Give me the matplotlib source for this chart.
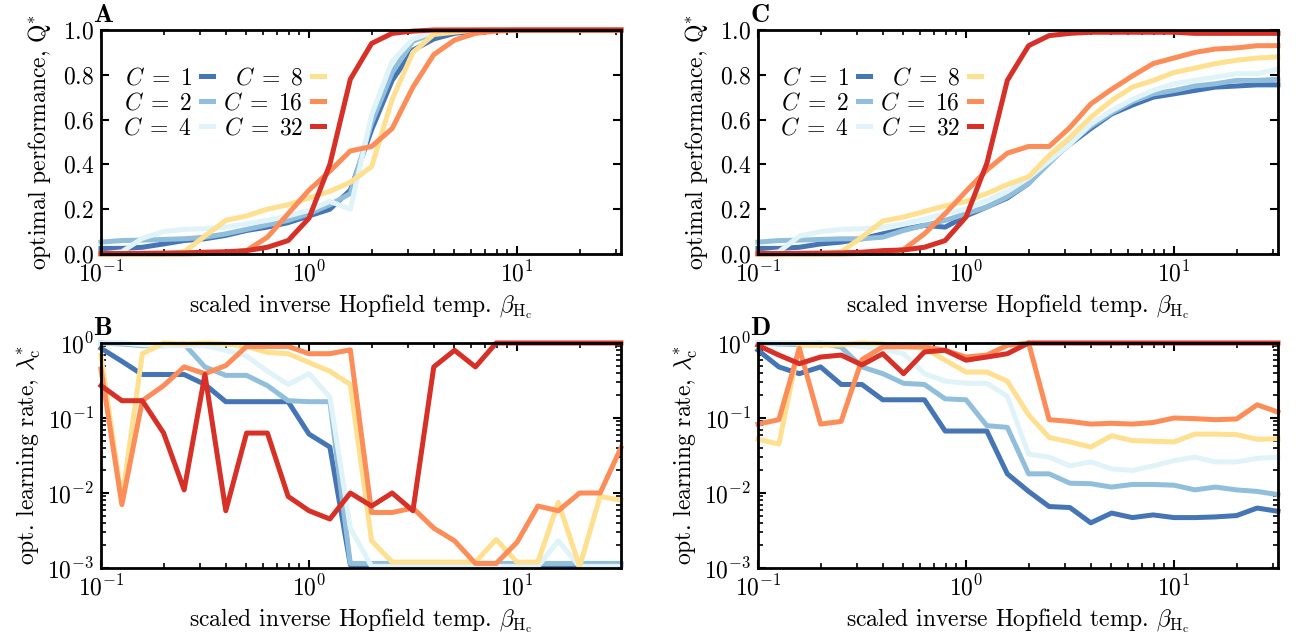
import matplotlib
matplotlib.use("Agg")
import matplotlib.pyplot as plt
import numpy as np

plt.rcParams.update({
    "font.family": "serif",
    "font.serif": ["cmr10"],
    "mathtext.fontset": "cm",
    "axes.formatter.use_mathtext": True,
    "font.size": 17,
    "axes.unicode_minus": False,
})

# scaled inverse Hopfield temperature grid
beta = [0.1, 0.126, 0.158, 0.2, 0.251, 0.316, 0.398, 0.501, 0.631, 0.794,
        1.0, 1.26, 1.58, 2.0, 2.51, 3.16, 3.98, 5.01, 6.31, 7.94,
        10.0, 12.6, 15.8, 20.0, 25.1, 31.6]

n_classes = [1, 2, 4, 8, 16, 32]
colors = ["#4575b4", "#91bfdb", "#e0f3f8", "#fee090", "#fc8d59", "#d73027"]

# panel A: optimal performance
perf_a_c1 = [0.025, 0.025, 0.03, 0.045, 0.06, 0.068, 0.083, 0.105, 0.12, 0.14, 0.17, 0.2, 0.285,
             0.555, 0.775, 0.91, 0.96, 0.985, 0.995, 1.0, 1.0, 1.0, 1.0, 1.0, 1.0, 1.0]
perf_a_c2 = [0.053, 0.06, 0.062, 0.065, 0.068, 0.075, 0.09, 0.11, 0.13, 0.15, 0.18, 0.22, 0.27,
             0.585, 0.81, 0.95, 0.985, 0.995, 1.0, 1.0, 1.0, 1.0, 1.0, 1.0, 1.0, 1.0]
perf_a_c4 = [0.0, 0.01, 0.07, 0.1, 0.11, 0.113, 0.12, 0.135, 0.15, 0.17, 0.195, 0.235, 0.2,
             0.62, 0.86, 0.96, 0.99, 1.0, 1.0, 1.0, 1.0, 1.0, 1.0, 1.0, 1.0, 1.0]
perf_a_c8 = [0.0, 0.0, 0.0, 0.0, 0.01, 0.08, 0.15, 0.17, 0.2, 0.22, 0.25, 0.28, 0.32,
             0.39, 0.69, 0.9, 0.98, 0.99, 1.0, 1.0, 1.0, 1.0, 1.0, 1.0, 1.0, 1.0]
perf_a_c16 = [0.0, 0.0, 0.0, 0.0, 0.0, 0.002, 0.005, 0.015, 0.075, 0.18, 0.285, 0.37, 0.46,
              0.48, 0.56, 0.745, 0.89, 0.955, 0.985, 0.995, 1.0, 1.0, 1.0, 1.0, 1.0, 1.0]
perf_a_c32 = [0.002, 0.002, 0.003, 0.004, 0.005, 0.008, 0.01, 0.015, 0.03, 0.06, 0.16, 0.4, 0.78,
              0.94, 0.985, 0.995, 1.0, 1.0, 1.0, 1.0, 1.0, 1.0, 1.0, 1.0, 1.0, 1.0]

# panel B: optimal learning rate
lr_b_c1 = [0.85, 0.57, 0.38, 0.38, 0.38, 0.28, 0.165, 0.165, 0.165, 0.165, 0.061, 0.041, 0.0011,
           0.0011, 0.0011, 0.0011, 0.0011, 0.0011, 0.0011, 0.0011, 0.0011, 0.0011, 0.0011, 0.0011, 0.0011, 0.0011]
lr_b_c2 = [1.0, 0.97, 0.92, 0.92, 0.97, 0.48, 0.37, 0.37, 0.27, 0.17, 0.165, 0.165, 0.00115,
           0.00115, 0.00115, 0.00115, 0.00115, 0.00115, 0.00115, 0.00115, 0.00115, 0.00115, 0.00115, 0.00115, 0.00115, 0.00115]
lr_b_c4 = [1.0, 1.0, 0.95, 0.92, 0.92, 0.92, 0.8, 0.67, 0.42, 0.28, 0.39, 0.19, 0.0034,
           0.00105, 0.00105, 0.00105, 0.00105, 0.00105, 0.00105, 0.00105, 0.00105, 0.00105, 0.0023, 0.00105, 0.00105, 0.00105]
lr_b_c8 = [0.68, 0.008, 0.72, 1.0, 0.97, 1.0, 0.97, 0.9, 0.75, 0.72, 0.55, 0.42, 0.28,
           0.0023, 0.0012, 0.0012, 0.0012, 0.0012, 0.0012, 0.0024, 0.0012, 0.0012, 0.0075, 0.00105, 0.009, 0.008]
lr_b_c16 = [0.45, 0.007, 0.17, 0.27, 0.48, 0.39, 0.5, 0.9, 0.9, 0.9, 0.72, 0.72, 0.81,
            0.0055, 0.0055, 0.0063, 0.0034, 0.0023, 0.00115, 0.00115, 0.0022, 0.0067, 0.0058, 0.01, 0.01, 0.04]
lr_b_c32 = [0.27, 0.17, 0.17, 0.063, 0.011, 0.38, 0.0058, 0.063, 0.063, 0.009, 0.0058, 0.0045, 0.01,
            0.0067, 0.01, 0.0058, 0.48, 0.8, 0.48, 1.0, 1.0, 1.0, 1.0, 1.0, 1.0, 1.0]

# panel C: optimal performance
perf_c_c1 = [0.025, 0.025, 0.03, 0.045, 0.053, 0.068, 0.09, 0.11, 0.128, 0.12, 0.17, 0.21, 0.25,
             0.315, 0.415, 0.49, 0.56, 0.625, 0.665, 0.7, 0.715, 0.73, 0.745, 0.75, 0.755, 0.755]
perf_c_c2 = [0.053, 0.06, 0.062, 0.065, 0.068, 0.068, 0.075, 0.105, 0.128, 0.15, 0.18, 0.21, 0.255,
             0.315, 0.405, 0.495, 0.57, 0.63, 0.68, 0.715, 0.73, 0.75, 0.76, 0.775, 0.775, 0.78]
perf_c_c4 = [0.0, 0.01, 0.08, 0.1, 0.11, 0.113, 0.12, 0.135, 0.155, 0.18, 0.2, 0.24, 0.28,
             0.34, 0.415, 0.49, 0.58, 0.64, 0.69, 0.73, 0.76, 0.775, 0.79, 0.805, 0.805, 0.825]
perf_c_c8 = [0.0, 0.0, 0.0, 0.0, 0.01, 0.075, 0.147, 0.165, 0.19, 0.215, 0.235, 0.27, 0.31,
             0.345, 0.44, 0.52, 0.61, 0.685, 0.745, 0.775, 0.81, 0.83, 0.85, 0.865, 0.875, 0.88]
perf_c_c16 = [0.0, 0.0, 0.0, 0.0, 0.0, 0.002, 0.005, 0.02, 0.09, 0.18, 0.28, 0.375, 0.45,
              0.48, 0.48, 0.565, 0.67, 0.735, 0.795, 0.85, 0.875, 0.9, 0.915, 0.92, 0.93, 0.93]
perf_c_c32 = [0.002, 0.002, 0.003, 0.004, 0.005, 0.008, 0.015, 0.018, 0.03, 0.06, 0.165, 0.405, 0.775,
              0.93, 0.975, 0.985, 0.99, 0.99, 0.99, 0.99, 0.99, 0.985, 0.985, 0.985, 0.985, 0.985]

# panel D: optimal learning rate
lr_d_c1 = [0.8, 0.48, 0.39, 0.48, 0.28, 0.28, 0.175, 0.175, 0.175, 0.067, 0.067, 0.067, 0.018,
           0.0105, 0.0066, 0.0064, 0.004, 0.0054, 0.0047, 0.0051, 0.0047, 0.0047, 0.0048, 0.005, 0.0063, 0.0057]
lr_d_c2 = [1.0, 0.97, 0.95, 1.0, 0.88, 0.48, 0.39, 0.29, 0.28, 0.18, 0.175, 0.079, 0.075,
           0.018, 0.018, 0.0135, 0.0133, 0.012, 0.013, 0.013, 0.0127, 0.011, 0.012, 0.011, 0.0105, 0.0095]
lr_d_c4 = [1.0, 1.0, 1.0, 1.0, 0.97, 0.9, 0.82, 0.72, 0.39, 0.31, 0.29, 0.29, 0.195,
           0.033, 0.03, 0.023, 0.026, 0.021, 0.02, 0.023, 0.027, 0.03, 0.026, 0.026, 0.029, 0.03]
lr_d_c8 = [0.052, 0.045, 0.93, 0.93, 0.95, 1.0, 0.97, 0.9, 0.85, 0.59, 0.41, 0.41, 0.31,
           0.11, 0.055, 0.048, 0.041, 0.058, 0.05, 0.049, 0.048, 0.061, 0.061, 0.06, 0.052, 0.053]
lr_d_c16 = [0.083, 0.095, 0.85, 0.083, 0.09, 0.6, 0.89, 0.89, 0.89, 0.8, 0.65, 0.69, 0.93,
            1.0, 0.095, 0.09, 0.083, 0.085, 0.083, 0.087, 0.1, 0.098, 0.095, 0.097, 0.15, 0.12]
lr_d_c32 = [0.93, 0.69, 0.53, 0.65, 0.69, 0.51, 0.72, 0.39, 0.76, 0.8, 0.59, 0.65, 0.72,
            1.0, 1.0, 1.0, 1.0, 1.0, 1.0, 1.0, 1.0, 1.0, 1.0, 1.0, 1.0, 1.0]

panels = {
    "A": [perf_a_c1, perf_a_c2, perf_a_c4, perf_a_c8, perf_a_c16, perf_a_c32],
    "B": [lr_b_c1, lr_b_c2, lr_b_c4, lr_b_c8, lr_b_c16, lr_b_c32],
    "C": [perf_c_c1, perf_c_c2, perf_c_c4, perf_c_c8, perf_c_c16, perf_c_c32],
    "D": [lr_d_c1, lr_d_c2, lr_d_c4, lr_d_c8, lr_d_c16, lr_d_c32],
}

W, H = 1297, 637
fig = plt.figure(figsize=(W / 100, H / 100), dpi=100)

# axes boxes in pixels: left, top, right, bottom
boxes = {
    "A": (101, 30, 621, 254),
    "B": (101, 343, 621, 568),
    "C": (758, 30, 1278, 254),
    "D": (758, 343, 1278, 568),
}

xlabel = r"scaled inverse Hopfield temp. $\beta_{\mathrm{H}_\mathrm{c}}$"

for name, (l, t, r, b) in boxes.items():
    ax = fig.add_axes([l / W, 1 - b / H, (r - l) / W, (b - t) / H])
    for vals, c, col in zip(panels[name], n_classes, colors):
        ax.plot(beta, vals, color=col, lw=3.6, clip_on=False, label=rf"$C\;=\;{c}$")
    ax.set_xscale("log")
    ax.set_xlim(0.1, 10 ** 1.5)
    if name in ("A", "C"):
        ax.set_ylim(0, 1)
        ax.set_yticks([0, 0.2, 0.4, 0.6, 0.8, 1.0])
        ax.set_ylabel(r"optimal performance, $\mathrm{Q}^{*}$", labelpad=7)
        handles, labels = ax.get_legend_handles_labels()
        ax.legend(handles, labels, ncol=2, loc="upper left", bbox_to_anchor=(0.025, 0.875),
                  frameon=False, markerfirst=False, handlelength=0.5, handletextpad=0.4,
                  columnspacing=0.45, labelspacing=0.12, borderaxespad=0, fontsize=17)
    else:
        ax.set_yscale("log")
        ax.set_ylim(1e-3, 1.0)
        ax.set_ylabel(r"opt. learning rate, $\lambda_\mathrm{c}^{*}$", labelpad=3)
    ax.set_xlabel(xlabel, labelpad=4)
    ax.tick_params(which="both", direction="in", top=True, right=True, labelsize=17)
    ax.tick_params(which="major", length=6, width=1.5, pad=5)
    ax.tick_params(which="minor", length=3.5, width=1.2)
    for sp in ax.spines.values():
        sp.set_linewidth(2)
    fig.text((l - 8) / W, 1 - (t - 8) / H, name, fontfamily="cmb10", fontsize=19,
             ha="left", va="baseline")

fig.savefig("out.png", dpi=100)
